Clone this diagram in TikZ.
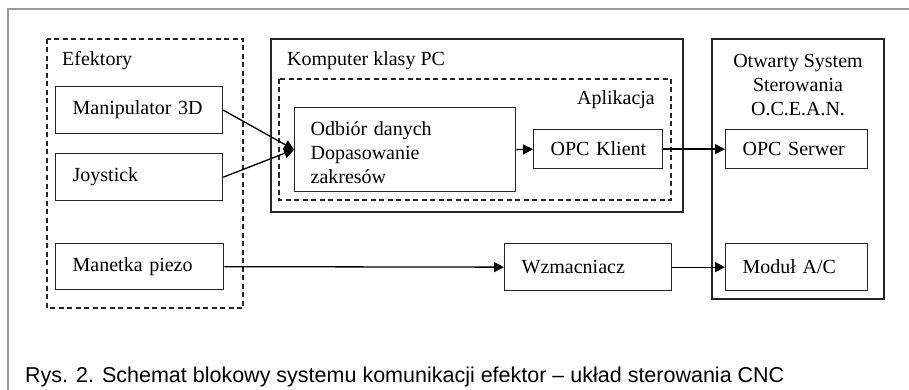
\documentclass[tikz,border=0pt]{standalone}
\usepackage{fontspec}
\setmainfont{Liberation Serif}
\newfontfamily\capfont{Liberation Sans}
\usetikzlibrary{arrows.meta}
\begin{document}
\begin{tikzpicture}[x=1pt,y=-1pt,
  font=\fontsize{20}{24}\selectfont,
  box/.style={draw=black!85, line width=1.3pt, anchor=north west, inner xsep=17pt, inner ysep=0pt, align=left},
  grp/.style={draw=black!85, line width=1.3pt},
  dgrp/.style={draw=black!85, line width=1.3pt, dash pattern=on 5pt off 3.5pt},
  arr/.style={draw=black, line width=1.3pt, -{Triangle[length=10pt,width=10pt]}},
  lbl/.style={inner sep=0pt}
]
\useasboundingbox (0,0) rectangle (909,390);
\fill[white] (0,0) rectangle (909,390);
% outer frame
\draw[gray!80, line width=1.5pt] (8,390) -- (8,9) -- (909,9);

% group frames
\draw[dgrp] (47,39) rectangle (243,308);
\draw[grp] (271,39) rectangle (683,212);
\draw[dgrp] (279,79) rectangle (671,200);
\draw[grp] (712,39) rectangle (884,299);

% group labels
\node[lbl, anchor=west] (efl) at (62,61) {Efektory};
\node[lbl, anchor=west] (pcl) at (287,61) {Komputer klasy PC};
\node[lbl, anchor=east] (apl) at (655,100) {Aplikacja};
\node[lbl, align=center, anchor=north] (ocl) at (798,54) {Otwarty System\\Sterowania\\O.C.E.A.N.};

% boxes
\node[box, minimum height=47pt, text width=133pt] (man) at (55,86) {Manipulator~3D};
\node[box, minimum height=47pt, text width=133pt] (joy) at (55,153) {Joystick};
\node[box, minimum height=46pt, text width=134pt] (pie) at (55,243) {Manetka~piezo};
\node[box, minimum height=84pt, text width=189pt, inner xsep=16pt] (odb) at (294,107) {\rule{0pt}{20pt}Odbiór danych\\Dopasowanie\\zakresów};
\node[box, minimum height=39pt, text width=95pt] (kli) at (533,129) {OPC~Klient};
\node[box, minimum height=39pt, text width=108pt] (ser) at (725,129) {OPC~Serwer};
\node[box, minimum height=47pt, text width=133pt] (wzm) at (504,243) {Wzmacniacz};
\node[box, minimum height=47pt, text width=108pt] (mod) at (725,243) {Moduł~A/C};

% connectors
\draw[arr] (man.east) -- (odb.west);
\draw[arr] (joy.east) -- (odb.west);
\draw[arr] (odb.east) -- (kli.west);
\draw[arr] (kli.east) -- (ser.west);
\draw[arr] (pie.east) -- (wzm.west);
\draw[arr] (wzm.east) -- (mod.west);

% caption
\node[lbl, anchor=base west, font=\capfont\fontsize{21.5}{24}\selectfont] (cap) at (25,382) {Rys. 2. Schemat blokowy systemu komunikacji efektor – układ sterowania CNC};
\end{tikzpicture}
\end{document}
